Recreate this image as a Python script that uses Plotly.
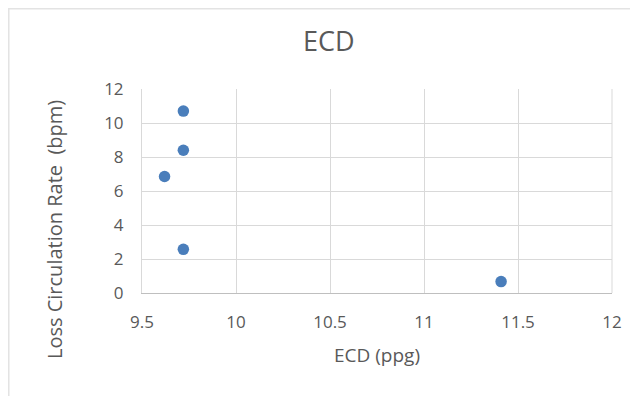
import plotly.graph_objects as go

# Data
ecd_ppg = [9.72, 9.72, 9.62, 9.72, 11.41]
loss_rate_bpm = [10.7, 8.4, 6.85, 2.57, 0.67]

x_ticks = [9.5, 10, 10.5, 11, 11.5, 12]
x_tick_labels = ["9.5", "10", "10.5", "11", "11.5", "12"]
y_ticks = [0, 2, 4, 6, 8, 10, 12]

FONT = "Open Sans"
TXT = "#595959"
GRID = "#d9d9d9"

fig = go.Figure()
fig.add_trace(go.Scatter(
    x=ecd_ppg, y=loss_rate_bpm, mode="markers",
    marker=dict(color="#4A7EBB", size=11.5, line=dict(width=0)),
    showlegend=False,
))

fig.update_layout(
    width=638, height=396,
    margin=dict(l=134, r=34, t=81, b=111, autoexpand=False),
    paper_bgcolor="white", plot_bgcolor="white",
    font=dict(family=FONT, color=TXT),
    title=dict(text="ECD", x=0.503, xanchor="center", y=0.915, yanchor="middle",
               font=dict(size=27, color=TXT, family=FONT), automargin=False),
    xaxis=dict(
        range=[9.5, 12], tickvals=x_ticks, ticktext=x_tick_labels,
        showgrid=True, gridcolor=GRID, gridwidth=1,
        showline=True, linecolor="#bfbfbf", linewidth=1, mirror=False,
        zeroline=False, ticks="", ticklabelstandoff=14, automargin=False,
        tickfont=dict(size=17, color=TXT),
        title=dict(text="ECD (ppg)", font=dict(size=19, color=TXT), standoff=16),
    ),
    yaxis=dict(
        range=[0, 12], tickvals=y_ticks,
        showgrid=True, gridcolor=GRID, gridwidth=1,
        showline=True, linecolor=GRID, linewidth=1,
        zeroline=False, ticks="", ticklabelstandoff=14, automargin=False,
        tickfont=dict(size=17, color=TXT),
    ),
    annotations=[
        dict(text="Loss Circulation Rate  (bpm)", textangle=-90,
             xref="paper", yref="paper", x=-0.185, y=0.309,
             xanchor="center", yanchor="middle", showarrow=False,
             font=dict(size=20, color=TXT, family=FONT)),
    ],
    shapes=[
        dict(type="rect", xref="paper", yref="paper",
             x0=-0.284, x1=1.09, y0=-0.57, y1=1.3946,
             line=dict(color="#e3e3e3", width=2), fillcolor="rgba(0,0,0,0)", layer="below"),
        dict(type="line", xref="paper", yref="paper", x0=1, x1=1, y0=0, y1=1,
             line=dict(color=GRID, width=1)),
    ],
)

fig.write_html("out.html")
